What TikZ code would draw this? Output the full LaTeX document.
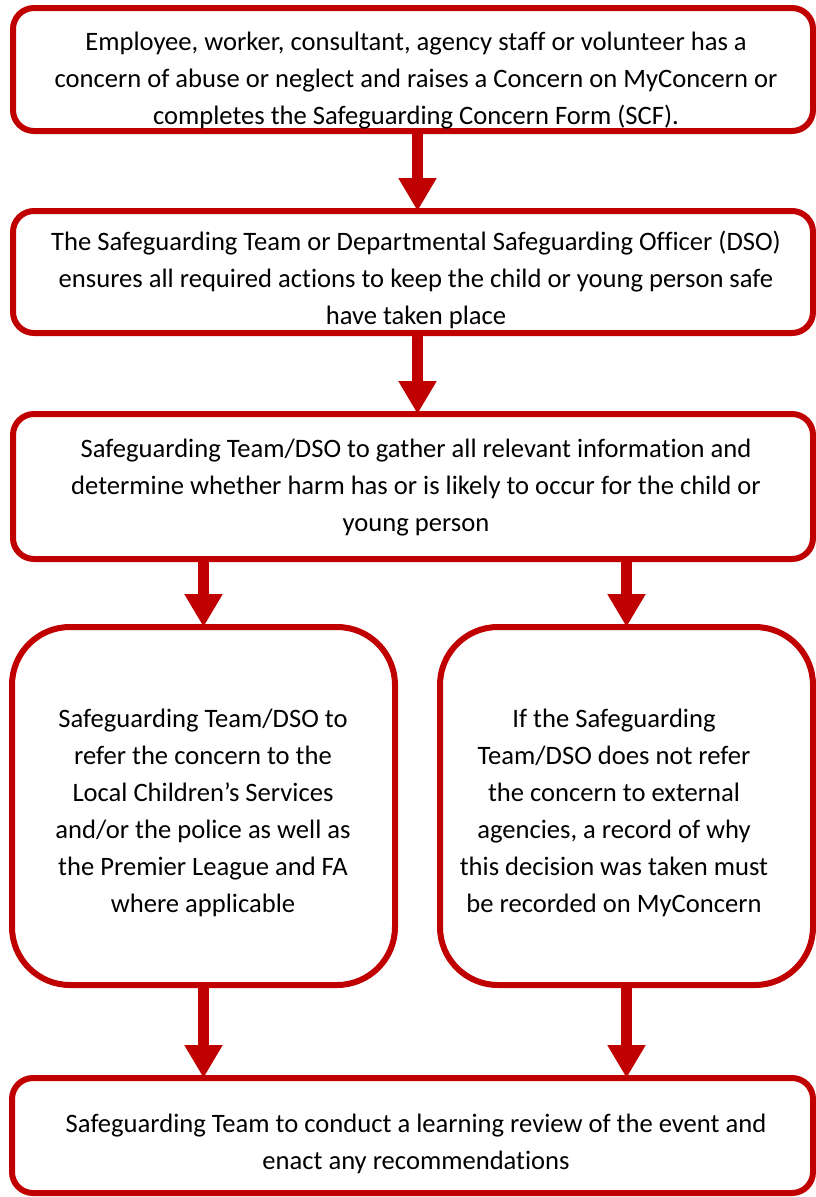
\documentclass[tikz,border=0pt]{standalone}
\usepackage{fontspec}
\setmainfont{Carlito}[Ligatures={NoCommon}]
\usetikzlibrary{arrows.meta}
\definecolor{boxred}{HTML}{C00000}
\tikzset{
  box/.style={draw=boxred, line width=6pt, rounded corners=21pt, inner sep=0pt, outer sep=0pt},
  bigbox/.style={box, rounded corners=58pt},
  txt/.style={align=center, inner sep=0pt, font=\fontsize{26.6}{37}\selectfont},
  bigarrow/.style={draw=boxred, line width=11pt, -{Triangle[length=33pt,width=36pt]}, fill=boxred}
}
\begin{document}
\begin{tikzpicture}[x=1pt,y=-1pt]
\useasboundingbox (0,0) rectangle (816,1197);
\node[box, minimum width=800pt, minimum height=123pt] (b1) at (413,69.5) {};
\node[box, minimum width=800pt, minimum height=122pt] (b2) at (413,272) {};
\node[box, minimum width=800pt, minimum height=145pt] (b3) at (413,486.5) {};
\node[bigbox, minimum width=383pt, minimum height=358pt] (b4) at (203.5,806) {};
\node[bigbox, minimum width=373pt, minimum height=358pt] (b5) at (626.5,806) {};
\node[box, minimum width=801pt, minimum height=115pt] (b6) at (412.5,1135.5) {};

\node[txt] (t1) at (416,81) {Employee, worker, consultant, agency staff or volunteer has a\\concern of abuse or neglect and raises a Concern on MyConcern or\\completes the Safeguarding Concern Form (SCF).};
\node[txt] (t2) at (416,280) {The Safeguarding Team or Departmental Safeguarding Officer (DSO)\\ensures all required actions to keep the child or young person safe\\have taken place};
\node[txt] (t3) at (416,488) {Safeguarding Team/DSO to gather all relevant information and\\determine whether harm has or is likely to occur for the child or\\young person};
\node[txt] (t4) at (203,813) {Safeguarding Team/DSO to\\refer the concern to the\\Local Children’s Services\\and/or the police as well as\\the Premier League and FA\\where applicable};
\node[txt] (t5) at (614,813) {If the Safeguarding\\Team/DSO does not refer\\the concern to external\\agencies, a record of why\\this decision was taken must\\be recorded on MyConcern};
\node[txt] (t6) at (416,1144) {Safeguarding Team to conduct a learning review of the event and\\enact any recommendations};

\draw[bigarrow] ([xshift=4.5pt]b1.south) -- ([xshift=4.5pt]b2.north);
\draw[bigarrow] ([xshift=4.5pt]b2.south) -- ([xshift=4.5pt]b3.north);
\draw[bigarrow] (b3.south -| b4.north) -- (b4.north);
\draw[bigarrow] (b3.south -| b5.north) -- (b5.north);
\draw[bigarrow] (b4.south) -- (b6.north -| b4.south);
\draw[bigarrow] (b5.south) -- (b6.north -| b5.south);
\end{tikzpicture}
\end{document}
